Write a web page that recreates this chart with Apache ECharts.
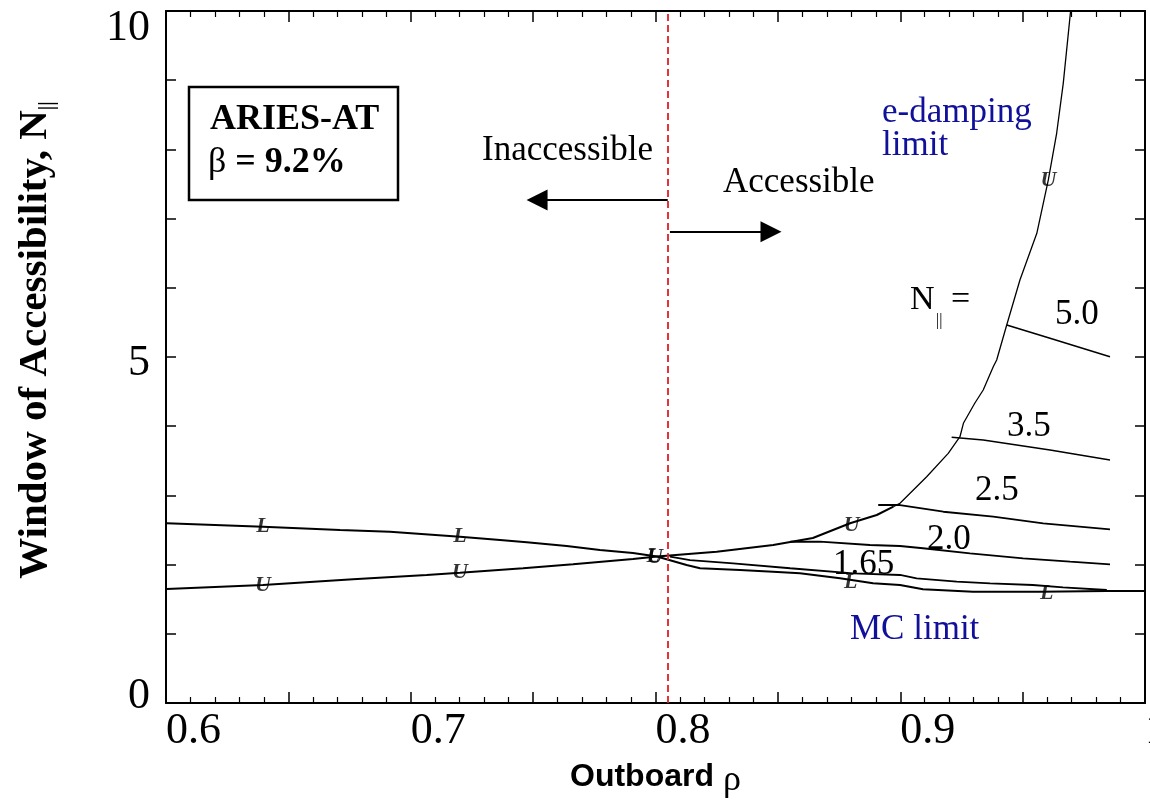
<!DOCTYPE html>
<html>
<head>
<meta charset="utf-8">
<script src="https://cdn.jsdelivr.net/npm/echarts@6/dist/echarts.min.js"></script>
<style>
html,body{margin:0;padding:0;background:#fff;overflow:hidden;width:1150px;height:801px;}
#c{width:1150px;height:801px;position:absolute;left:0;top:0;}
</style>
</head>
<body>
<div id="c"></div>
<script>
// ---------------- data ----------------
const xTickValues = [0.6, 0.7, 0.8, 0.9, 1.0];
const xTickLabels = ['0.6', '0.7', '0.8', '0.9', '1'];
const yTickValues = [0, 5, 10];
const yTickLabels = ['0', '5', '10'];

// "L" branch (upper-left) continuing into the MC limit
const lowerLimitX = [0.6003,0.6396,0.6711,0.6915,0.7201,0.7365,0.7474,0.7637,0.7773,0.7908,0.8006,
                     0.8127,0.8182,0.8345,0.8480,0.8590,0.8754,0.8889,0.8999,0.9093,0.9297,0.9571,0.9844,1.0];
const lowerLimitY = [2.597,2.548,2.500,2.475,2.403,2.355,2.322,2.269,2.211,2.168,2.117,
                     1.994,1.946,1.922,1.897,1.874,1.802,1.730,1.705,1.643,1.608,1.608,1.618,1.618];

// "U" branch (lower-left) continuing upward
const upperLimitX = [0.6003,0.6396,0.6764,0.7065,0.7201,0.7459,0.7663,0.7908,0.8006,0.8250,0.8481,0.8643,0.8795,0.8904,0.8972];
const upperLimitY = [1.647,1.705,1.788,1.850,1.883,1.947,2.004,2.081,2.117,2.186,2.283,2.384,2.597,2.717,2.837];

// e-damping limit (thin)
const eDampX = [0.8972,0.8999,0.9108,0.9196,0.9244,0.9258,0.9305,0.9339,0.9380,0.9394,0.9435,0.9489,0.9558,0.9605,0.9639,0.9666,0.9696];
const eDampY = [2.837,2.886,3.270,3.608,3.848,4.042,4.335,4.523,4.860,4.957,5.462,6.113,6.788,7.558,8.233,8.955,10.0];

// constant N|| curves
const n50X = [0.9435,0.9612,0.9857];
const n50Y = [5.462,5.270,5.004];
const n35X = [0.9210,0.9339,0.9612,0.9857];
const n35Y = [3.840,3.801,3.656,3.512];
const n25X = [0.8910,0.8999,0.9176,0.9380,0.9584,0.9857];
const n25Y = [2.861,2.861,2.764,2.692,2.597,2.510];
const n20X = [0.8550,0.8672,0.8876,0.8999,0.9093,0.9285,0.9502,0.9694,0.9857];
const n20Y = [2.330,2.331,2.283,2.269,2.236,2.163,2.091,2.042,2.004];
const n165X = [0.8059,0.8141,0.8317,0.8550,0.8807,0.8999,0.9067,0.9231,0.9367,0.9542,0.9665,0.9844];
const n165Y = [2.114,2.066,2.019,1.947,1.874,1.850,1.802,1.753,1.730,1.705,1.672,1.633];

// "L" and "U" point markers
const lMarkX = [0.6396,0.7201,0.7991,0.8798,0.9598];
const lMarkY = [2.548,2.403,2.125,1.750,1.590];
const uMarkX = [0.6396,0.7201,0.7998,0.8802,0.9605];
const uMarkY = [1.705,1.883,2.105,2.572,7.558];

// accessibility boundary and arrows
const boundaryX = 0.805;
const leftArrow = {x0: 0.805, x1: 0.7516, y: 7.269};
const rightArrow = {x0: 0.8059, x1: 0.8472, y: 6.811};

// ---------------- chart ----------------
const serif = '"Liberation Serif","Times New Roman",Times,serif';
const sans = '"Liberation Sans Narrow","Liberation Sans",Arial,sans-serif';
const navy = '#10109a';

function pts(xs, ys) { return xs.map((x, i) => [x, ys[i]]); }
function curve(name, xs, ys, w) {
  return {
    type: 'line', name: name, data: pts(xs, ys), showSymbol: false, symbol: 'none',
    lineStyle: { color: '#000', width: w }, silent: true, z: 3, clip: true
  };
}
function markers(name, xs, ys, txt) {
  return {
    type: 'scatter', name: name, data: pts(xs, ys), symbol: 'circle', symbolSize: 1,
    itemStyle: { color: 'rgba(0,0,0,0)' }, silent: true, z: 4,
    label: { show: true, position: 'inside', formatter: txt,
             fontFamily: serif, fontStyle: 'italic', fontWeight: 'bold', fontSize: 22, color: '#000' }
  };
}

const axisCommon = {
  type: 'value', min: 0.6, max: 1.0, interval: 0.05,
  axisLine: { show: true, onZero: false, lineStyle: { color: '#000', width: 2 } },
  axisTick: { show: true, inside: true, length: 11, lineStyle: { color: '#000', width: 1.5 } },
  minorTick: { show: true, splitNumber: 5, length: 6, lineStyle: { color: '#000', width: 1.2 } },
  splitLine: { show: false }
};
const yCommon = {
  type: 'value', min: 0, max: 10, interval: 1,
  axisLine: { show: true, onZero: false, lineStyle: { color: '#000', width: 2 } },
  axisTick: { show: true, inside: true, length: 10, lineStyle: { color: '#000', width: 1.5 } },
  splitLine: { show: false }
};

const chart = echarts.init(document.getElementById('c'), null, { renderer: 'canvas', width: 1150, height: 801 });

const option = {
  animation: false,
  backgroundColor: '#fff',
  grid: { left: 166, right: 5, top: 11, bottom: 98, containLabel: false, outerBoundsMode: 'none' },
  xAxis: [
    Object.assign({}, axisCommon, {
      position: 'bottom',
      axisLabel: {
        show: true, margin: 6, align: 'left', color: '#000', fontFamily: serif, fontSize: 44,
        hideOverlap: false,
        formatter: function (v) {
          for (let i = 0; i < xTickValues.length; i++) {
            if (Math.abs(v - xTickValues[i]) < 1e-6) return xTickLabels[i];
          }
          return '';
        }
      },
      name: '{a|Outboard}{b| ρ}',
      nameLocation: 'middle', nameGap: 52,
      nameTextStyle: {
        rich: {
          a: { fontFamily: sans, fontWeight: 'bold', fontSize: 32, color: '#000' },
          b: { fontFamily: serif, fontSize: 36, color: '#000', padding: [8, 0, 0, 0] }
        }
      }
    }),
    Object.assign({}, axisCommon, { position: 'top', axisLabel: { show: false } })
  ],
  yAxis: [
    Object.assign({}, yCommon, {
      position: 'left',
      axisLabel: {
        show: true, margin: 16, color: '#000', fontFamily: serif, fontSize: 44,
        formatter: function (v) {
          const i = yTickValues.indexOf(v);
          if (i < 0) return '';
          if (v === 10) return '{t|' + yTickLabels[i] + '}';
          if (v === 0) return '{b|' + yTickLabels[i] + '}';
          return '{m|' + yTickLabels[i] + '}';
        },
        rich: {
          t: { fontFamily: serif, fontSize: 44, color: '#000', padding: [34, 0, 0, 0] },
          m: { fontFamily: serif, fontSize: 44, color: '#000', padding: [12, 0, 0, 0] },
          b: { fontFamily: serif, fontSize: 44, color: '#000', padding: [0, 0, 14, 0] }
        }
      }
    }),
    Object.assign({}, yCommon, { position: 'right', axisLabel: { show: false } })
  ],
  series: [
    curve('L / MC limit', lowerLimitX, lowerLimitY, 2),
    curve('U', upperLimitX, upperLimitY, 2),
    curve('e-damping', eDampX, eDampY, 1.3),
    curve('5.0', n50X, n50Y, 1.6),
    curve('3.5', n35X, n35Y, 1.6),
    curve('2.5', n25X, n25Y, 1.8),
    curve('2.0', n20X, n20Y, 1.8),
    curve('1.65', n165X, n165Y, 1.8),
    markers('L', lMarkX, lMarkY, 'L'),
    markers('U', uMarkX, uMarkY, 'U'),
    {
      type: 'line', name: 'annotations', data: [], silent: true, z: 5,
      markLine: {
        silent: true, animation: false,
        label: { show: false },
        data: [
          [{ coord: [boundaryX, 0], symbol: 'none', lineStyle: { color: '#e02020', width: 1.8, type: [7, 4] } },
           { coord: [boundaryX, 10], symbol: 'none' }],
          [{ coord: [leftArrow.x0, leftArrow.y], symbol: 'none', lineStyle: { color: '#000', width: 2, type: 'solid' } },
           { coord: [leftArrow.x1, leftArrow.y], symbol: 'triangle', symbolSize: 21 }],
          [{ coord: [rightArrow.x0, rightArrow.y], symbol: 'none', lineStyle: { color: '#000', width: 2, type: 'solid' } },
           { coord: [rightArrow.x1, rightArrow.y], symbol: 'triangle', symbolSize: 21 }]
        ]
      }
    }
  ],
  graphic: [
    { type: 'rect', shape: { x: 189, y: 87, width: 209, height: 113 },
      style: { fill: 'none', stroke: '#000', lineWidth: 2.5 }, z: 10 },
    { type: 'text', x: 210, y: 120, z: 10,
      style: { text: 'ARIES-AT', font: 'bold 36px ' + serif, fill: '#000', align: 'left', verticalAlign: 'middle' } },
    { type: 'text', x: 208, y: 163, z: 10,
      style: { text: '{g|β }{v|= 9.2%}', align: 'left', verticalAlign: 'middle',
        rich: { g: { font: '36px ' + serif, fill: '#000' }, v: { font: 'bold 36px ' + serif, fill: '#000' } } } },
    { type: 'text', x: 482, y: 151, z: 10,
      style: { text: 'Inaccessible', font: '35px ' + serif, fill: '#000', align: 'left', verticalAlign: 'middle' } },
    { type: 'text', x: 723, y: 183, z: 10,
      style: { text: 'Accessible', font: '35px ' + serif, fill: '#000', align: 'left', verticalAlign: 'middle' } },
    { type: 'text', x: 882, y: 113, z: 10,
      style: { text: 'e-damping', font: '35px ' + serif, fill: navy, align: 'left', verticalAlign: 'middle' } },
    { type: 'text', x: 882, y: 146, z: 10,
      style: { text: 'limit', font: '35px ' + serif, fill: navy, align: 'left', verticalAlign: 'middle' } },
    { type: 'text', x: 910, y: 300, z: 10,
      style: { text: 'N', font: '34px ' + serif, fill: '#000', align: 'left', verticalAlign: 'middle' } },
    { type: 'text', x: 936, y: 321, z: 10,
      style: { text: '||', font: '16px ' + serif, fill: '#000', align: 'left', verticalAlign: 'middle' } },
    { type: 'text', x: 951, y: 300, z: 10,
      style: { text: '=', font: '34px ' + serif, fill: '#000', align: 'left', verticalAlign: 'middle' } },
    { type: 'text', x: 1055, y: 315, z: 10,
      style: { text: '5.0', font: '35px ' + serif, fill: '#000', align: 'left', verticalAlign: 'middle' } },
    { type: 'text', x: 1007, y: 427, z: 10,
      style: { text: '3.5', font: '35px ' + serif, fill: '#000', align: 'left', verticalAlign: 'middle' } },
    { type: 'text', x: 975, y: 491, z: 10,
      style: { text: '2.5', font: '35px ' + serif, fill: '#000', align: 'left', verticalAlign: 'middle' } },
    { type: 'text', x: 927, y: 540, z: 10,
      style: { text: '2.0', font: '35px ' + serif, fill: '#000', align: 'left', verticalAlign: 'middle' } },
    { type: 'text', x: 833, y: 565, z: 10,
      style: { text: '1.65', font: '35px ' + serif, fill: '#000', align: 'left', verticalAlign: 'middle' } },
    { type: 'text', x: 850, y: 630, z: 10,
      style: { text: 'MC limit', font: '35px ' + serif, fill: navy, align: 'left', verticalAlign: 'middle' } },
    { type: 'text', x: 35, y: 340, rotation: Math.PI / 2, z: 10,
      style: { text: '{a|Window of Accessibility, N}{s|||}', align: 'center', verticalAlign: 'middle',
        rich: {
          a: { font: 'bold 41px ' + serif, fill: '#000', lineHeight: 46 },
          s: { font: 'bold 20px ' + serif, fill: '#000', lineHeight: 20, verticalAlign: 'bottom' }
        } } }
  ]
};
chart.setOption(option);
</script>
</body>
</html>
